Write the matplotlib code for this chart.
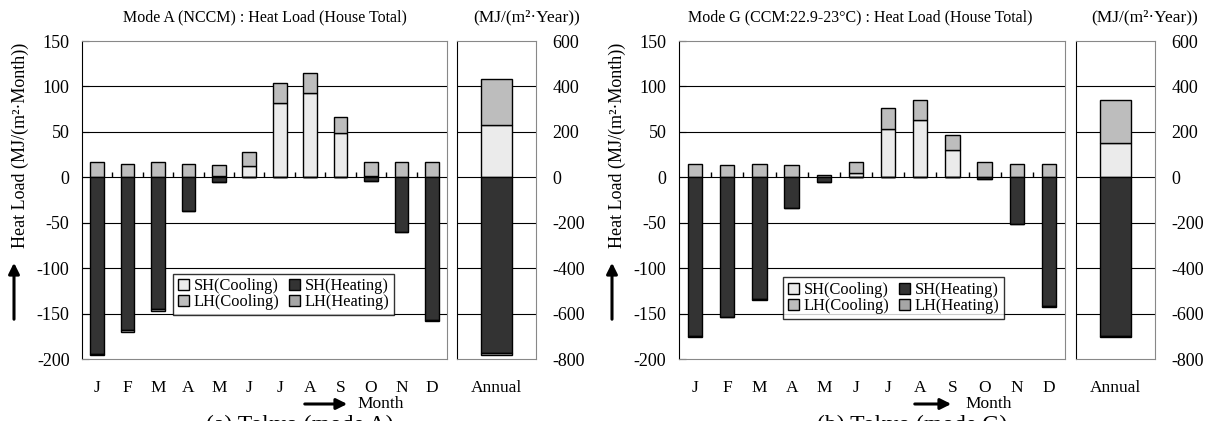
import numpy as np
import matplotlib
matplotlib.use("Agg")
import matplotlib.pyplot as plt

plt.rcParams['font.family'] = ['Liberation Serif', 'DejaVu Serif']

months = ['J', 'F', 'M', 'A', 'M', 'J', 'J', 'A', 'S', 'O', 'N', 'D']
series_labels = ['SH(Cooling)', 'LH(Cooling)', 'SH(Heating)', 'LH(Heating)']
colors = ['#ebebeb', '#bdbdbd', '#333333', '#a6a6a6']

# Mode A (NCCM)
a_sh_cool = [0, 0, 0, 0, 1, 12, 82, 93, 49, 1, 0, 0]
a_lh_cool = [16.5, 15, 16.5, 15, 13, 16, 22, 22, 17, 15.5, 16.5, 16.5]
a_sh_heat = [-194, -168.5, -145.5, -37, -5, 0, 0, 0, 0, -4, -60, -157.5]
a_lh_heat = [-1.5, -1.5, -1.5, 0, 0, 0, 0, 0, 0, 0, 0, -1]
a_annual = [229, 204, -775, -7]   # SH cool, LH cool, SH heat, LH heat

# Mode G (CCM 22.9-23C)
g_sh_cool = [0, 0, 0, 0, 0, 4.7, 53, 63.6, 30, 0, 0, 0]
g_lh_cool = [15, 13.5, 15, 13.5, 3, 12.3, 22.8, 21, 16, 17, 14.8, 14.8]
g_sh_heat = [-174.5, -153.5, -134, -34, -5, 0, 0, 0, 0, -2, -51, -142]
g_lh_heat = [-1.5, -0.5, -1.2, 0, 0, 0, 0, 0, 0, 0, 0, -0.8]
g_annual = [150, 192, -698, -3]

main_ticks = [150, 100, 50, 0, -50, -100, -150, -200]
annual_ticks = [600, 400, 200, 0, -200, -400, -600, -800]

W, H = 1221, 421
fig = plt.figure(figsize=(W / 100, H / 100), dpi=100)


def fx(px):
    return px / W


def fy(py):
    return 1 - py / H


def draw_panel(x_main, w_main, x_ann, title, title_x, unit_x, caption, cap_x,
               sh_c, lh_c, sh_h, lh_h, annual, leg_box, ylab_x, arrow_x,
               month_arrow):
    y0, y1 = 359, 41
    ax = fig.add_axes([fx(x_main), fy(y0), fx(w_main), fy(y1) - fy(y0)])
    axa = fig.add_axes([fx(x_ann), fy(y0), fx(79), fy(y1) - fy(y0)])
    x = np.arange(len(months))
    bw = 0.45
    sh_c = np.array(sh_c); lh_c = np.array(lh_c)
    sh_h = np.array(sh_h); lh_h = np.array(lh_h)
    ax.set_ylim(-200, 150)
    ax.set_xlim(-0.5, len(months) - 0.5)
    for yv in main_ticks[1:-1]:
        ax.axhline(yv, color='black', lw=0.8, zorder=1)
    kw = dict(width=bw, edgecolor='black', linewidth=1.0, zorder=3)
    h1 = ax.bar(x, sh_c, color=colors[0], label=series_labels[0], **kw)
    h2 = ax.bar(x, lh_c, bottom=sh_c, color=colors[1], label=series_labels[1], **kw)
    h3 = ax.bar(x, sh_h, color=colors[2], label=series_labels[2], **kw)
    h4 = ax.bar(x, lh_h, bottom=sh_h, color=colors[3], label=series_labels[3], **kw)
    ax.vlines(np.arange(0.5, len(months) - 1, 1.0), 0, 6, color='black', lw=1.0, zorder=2)
    ax.set_yticks(main_ticks)
    ax.set_yticklabels([str(t) for t in main_ticks])
    ax.set_xticks(x)
    ax.set_xticklabels(months)
    ax.tick_params(axis='x', length=0, pad=15, labelsize=12.5)
    ax.tick_params(axis='y', direction='in', length=5, pad=9, labelsize=13)
    for s in ['top', 'right', 'bottom']:
        ax.spines[s].set_color('#888888')
    ax.spines['left'].set_color('black')
    leg = ax.legend(handles=[h1, h2, h3, h4], ncol=2, loc='lower left',
                    bbox_to_anchor=leg_box, bbox_transform=ax.transData,
                    fontsize=11.8, frameon=True, fancybox=False,
                    edgecolor='black', handlelength=0.7, handleheight=0.7,
                    handletextpad=0.25, columnspacing=0.6, labelspacing=0.0,
                    borderpad=0.3, borderaxespad=0.0)
    leg.get_frame().set_linewidth(1.0)
    leg.set_zorder(5)

    # annual panel
    axa.set_ylim(-800, 600)
    axa.set_xlim(-0.5, 0.5)
    for yv in annual_ticks[1:-1]:
        axa.axhline(yv, color='black', lw=0.8, zorder=1)
    bw_a = 0.4
    axa.bar([0], [annual[0]], width=bw_a, color=colors[0], edgecolor='black', lw=1.0, zorder=3)
    axa.bar([0], [annual[1]], bottom=[annual[0]], width=bw_a, color=colors[1], edgecolor='black', lw=1.0, zorder=3)
    axa.bar([0], [annual[2]], width=bw_a, color=colors[2], edgecolor='black', lw=1.0, zorder=3)
    axa.bar([0], [annual[3]], bottom=[annual[2]], width=bw_a, color=colors[3], edgecolor='black', lw=1.0, zorder=3)
    axa.yaxis.tick_right()
    axa.set_yticks(annual_ticks)
    axa.set_yticklabels([str(t) for t in annual_ticks])
    axa.tick_params(axis='y', length=0, pad=12, labelsize=13)
    axa.set_xticks([0])
    axa.set_xticklabels(['Annual'])
    axa.tick_params(axis='x', length=0, pad=15, labelsize=12.5)
    for s in ['top', 'right', 'bottom']:
        axa.spines[s].set_color('#888888')
    axa.spines['left'].set_color('black')

    fig.text(fx(title_x), fy(17), title, ha='center', va='center', fontsize=11.5)
    fig.text(fx(unit_x), fy(17), '(MJ/(m²·Year))', ha='center', va='center', fontsize=12.5)
    fig.text(fx(ylab_x), fy(145), 'Heat Load (MJ/(m²·Month))', rotation=90,
             ha='center', va='center', fontsize=13)
    fig.add_artist(matplotlib.patches.FancyArrowPatch(
        (fx(arrow_x), fy(322)), (fx(arrow_x), fy(260)), transform=fig.transFigure,
        arrowstyle='-|>', mutation_scale=16, lw=2.2, color='black'))
    ma0, ma1, mtext_x = month_arrow
    fig.add_artist(matplotlib.patches.FancyArrowPatch(
        (fx(ma0), fy(404)), (fx(ma1), fy(404)), transform=fig.transFigure,
        arrowstyle='-|>', mutation_scale=16, lw=2.2, color='black'))
    fig.text(fx(mtext_x), fy(404), 'Month', ha='left', va='center', fontsize=12.5)
    fig.text(fx(cap_x), fy(415), caption, ha='center', va='top', fontsize=17)


draw_panel(82, 365, 457, 'Mode A (NCCM) : Heat Load (House Total)', 265, 527,
           '(a) Tokyo (mode A)', 300,
           a_sh_cool, a_lh_cool, a_sh_heat, a_lh_heat, a_annual,
           (2.49, -152), 20, 14, (302, 350, 357))
draw_panel(679, 386, 1076, 'Mode G (CCM:22.9-23°C) : Heat Load (House Total)', 860, 1145,
           '(b) Tokyo (mode G)', 912,
           g_sh_cool, g_lh_cool, g_sh_heat, g_lh_heat, g_annual,
           (2.73, -156), 617, 612, (912, 954, 965))

fig.savefig('out.png', dpi=100)
